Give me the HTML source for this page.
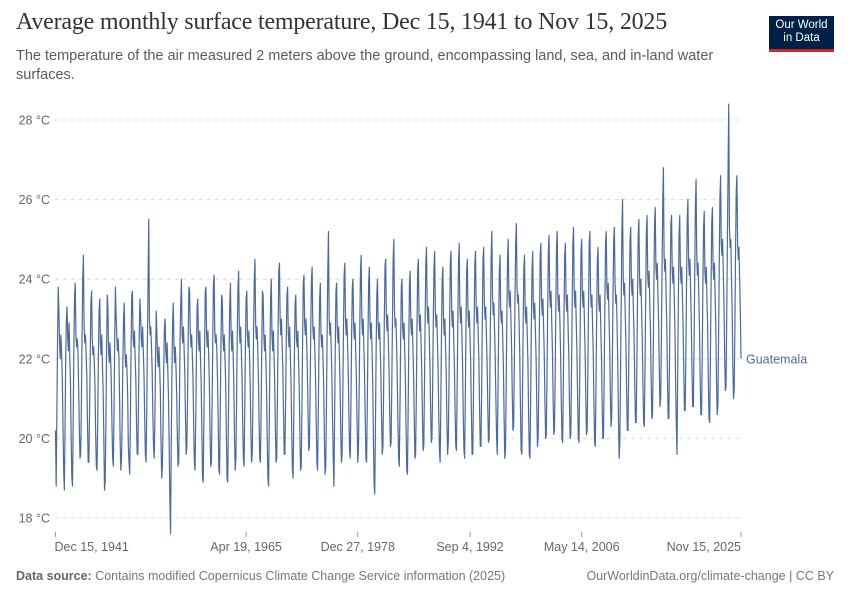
<!DOCTYPE html>
<html><head><meta charset="utf-8">
<style>
body{margin:0;background:#fff;font-family:"Liberation Sans",sans-serif;}
#wrap{position:relative;width:850px;height:600px;overflow:hidden;}
.title{position:absolute;left:16px;top:9px;font-family:"Liberation Serif",serif;font-size:24px;color:#333;margin:0;font-weight:normal;letter-spacing:-0.2px}
.sub{position:absolute;left:16px;top:47px;width:730px;font-size:14.5px;line-height:19px;color:#5b5b5b}
.logo{position:absolute;left:769px;top:16px;width:65px;background:#002147;border-bottom:3px solid #ce261e;color:#fff;font-size:11.5px;line-height:13px;text-align:center;padding-top:3px;box-sizing:content-box;height:30px}
.foot{position:absolute;top:569px;font-size:12.5px;color:#777}
svg{position:absolute;left:0;top:0}
</style></head><body>
<div id="wrap">
<h1 class="title">Average monthly surface temperature, Dec 15, 1941 to Nov 15, 2025</h1>
<div class="sub">The temperature of the air measured 2 meters above the ground, encompassing land, sea, and in-land water surfaces.</div>
<div class="logo">Our World<br>in Data</div>
<svg id="chart" width="850" height="600"></svg>
<div class="foot" style="left:16px"><b style="font-weight:bold;color:#666">Data source:</b> Contains modified Copernicus Climate Change Service information (2025)</div>
<div class="foot" style="right:16px">OurWorldinData.org/climate-change | CC BY</div>
</div>
<script>
const yTicks=[18,20,22,24,26,28];
const xTickLabels=["Dec 15, 1941","Apr 19, 1965","Dec 27, 1978","Sep 4, 1992","May 14, 2006","Nov 15, 2025"];
const xTickMonths=[0,280,444,609,773,1007];
const seriesName="Guatemala";
const startValues=[20.2];
const yearly=[
[18.8,20.6,22.4,23.8,23.2,22.4,22.0,22.6,22.1,21.5,20.3,19.2],
[18.7,20.2,22.0,23.0,23.3,22.5,22.2,22.9,22.0,21.4,20.0,19.0],
[18.8,20.5,22.3,23.6,23.9,22.6,22.3,22.5,22.2,21.3,20.2,19.5],
[19.6,20.8,22.6,24.0,24.6,22.8,22.4,22.6,22.1,21.6,20.4,19.4],
[19.4,20.6,22.0,23.4,23.7,22.5,22.1,22.3,21.9,21.3,20.1,19.3],
[19.2,20.4,22.1,23.2,23.5,22.4,22.1,22.6,21.8,21.2,20.0,18.7],
[18.9,20.3,22.2,23.6,23.3,22.2,21.9,22.4,22.0,21.4,20.3,19.5],
[19.3,20.7,22.5,23.8,23.1,22.6,22.2,22.5,22.1,21.2,19.9,19.2],
[19.5,20.5,22.0,23.0,23.4,22.2,21.8,22.1,21.7,21.1,19.8,19.4],
[19.1,20.4,22.3,23.6,23.7,22.5,22.3,22.7,22.0,21.5,20.4,19.6],
[19.6,21.0,22.6,23.5,23.1,22.5,22.3,22.8,22.2,21.6,20.5,19.6],
[19.4,20.6,22.4,24.0,25.5,23.0,22.6,22.8,22.3,21.7,20.6,19.8],
[19.5,20.5,22.0,23.2,22.6,22.0,21.8,22.3,21.8,21.2,19.9,19.0],
[19.3,20.3,21.8,22.8,23.0,22.2,21.9,22.4,21.7,21.0,19.8,18.5],
[17.6,19.8,21.6,22.9,23.4,22.3,21.9,22.3,21.8,21.1,20.0,19.3],
[19.4,20.8,22.5,23.4,24.0,22.6,22.4,22.8,22.2,21.6,20.5,19.6],
[19.8,21.0,22.6,23.8,23.7,22.7,22.3,22.6,22.1,21.5,20.3,19.4],
[19.2,20.4,22.0,23.3,23.5,22.5,22.2,22.7,22.0,21.4,20.2,19.0],
[18.9,20.5,22.2,23.7,23.8,22.6,22.3,22.7,22.1,21.4,20.2,19.3],
[19.4,20.8,22.4,23.9,24.1,22.7,22.4,22.6,22.2,21.5,20.4,19.2],
[19.1,20.6,22.3,23.6,23.5,22.5,22.2,22.6,22.0,21.4,20.1,19.0],
[18.9,20.4,22.1,23.4,23.9,22.6,22.2,22.7,22.1,21.3,20.0,19.2],
[19.5,20.9,22.6,23.8,24.2,22.8,22.4,22.8,22.2,21.6,20.4,19.5],
[19.3,20.7,22.4,23.5,23.7,22.6,22.3,22.7,22.1,21.4,20.2,19.4],
[19.6,20.9,22.7,24.0,24.5,22.9,22.5,22.8,22.3,21.6,20.5,19.5],
[19.4,20.6,22.3,23.7,23.6,22.6,22.2,22.6,22.0,21.3,20.0,19.0],
[18.8,20.3,22.1,23.5,24.0,22.6,22.2,22.7,22.1,21.4,20.3,19.4],
[19.5,21.0,22.7,24.2,24.4,23.0,22.6,23.0,22.3,21.7,20.6,19.6],
[19.6,20.9,22.5,23.6,23.8,22.6,22.3,22.8,22.1,21.4,20.2,19.2],
[19.0,20.5,22.2,23.4,23.6,22.5,22.3,22.7,22.0,21.3,20.1,19.2],
[19.3,20.8,22.5,23.9,24.1,22.9,22.6,23.0,22.4,21.7,20.6,19.7],
[19.8,21.1,22.8,24.0,24.3,22.8,22.5,22.8,22.2,21.5,20.4,19.4],
[19.2,20.6,22.2,23.5,23.9,22.6,22.3,22.6,22.0,21.3,20.0,19.1],
[19.3,20.8,22.6,24.2,25.2,23.0,22.6,22.9,22.3,21.6,20.4,19.5],
[18.8,20.5,22.3,23.7,23.9,22.7,22.4,22.8,22.1,21.4,20.2,19.4],
[19.6,21.0,22.7,24.1,24.4,23.0,22.6,23.0,22.4,21.7,20.6,19.7],
[19.5,20.9,22.6,23.8,24.0,22.8,22.5,22.9,22.2,21.5,20.4,19.4],
[19.7,21.1,22.8,24.2,24.6,23.0,22.6,23.0,22.3,21.6,20.5,19.5],
[19.4,20.8,22.5,23.9,24.3,22.9,22.5,22.9,22.2,21.4,20.0,18.9],
[18.6,20.3,22.2,23.6,24.0,22.8,22.5,22.9,22.3,21.6,20.5,19.6],
[19.8,21.2,22.9,24.3,24.5,23.1,22.7,23.1,22.4,21.7,20.6,19.8],
[19.9,21.3,23.0,24.5,25.0,23.2,22.8,23.0,22.4,21.6,20.4,19.5],
[19.3,20.7,22.4,23.8,24.0,22.8,22.5,22.9,22.2,21.5,20.2,19.2],
[19.1,20.6,22.4,23.9,24.2,22.9,22.6,23.0,22.3,21.6,20.5,19.5],
[19.6,21.0,22.8,24.2,24.5,23.1,22.7,23.1,22.4,21.7,20.6,19.7],
[19.8,21.3,23.0,24.4,24.8,23.3,22.9,23.3,22.6,21.9,20.8,19.9],
[20.0,21.3,23.0,24.3,24.7,23.2,22.8,23.1,22.5,21.8,20.6,19.7],
[19.4,20.8,22.6,24.0,24.3,23.0,22.6,23.0,22.3,21.6,20.4,19.6],
[19.9,21.3,23.0,24.4,24.7,23.2,22.8,23.2,22.5,21.8,20.7,19.8],
[19.7,21.2,22.9,24.4,24.9,23.3,22.9,23.3,22.6,21.8,20.6,19.7],
[19.5,21.0,22.8,24.2,24.5,23.1,22.8,23.2,22.5,21.8,20.6,19.6],
[19.6,21.1,22.9,24.4,24.7,23.3,22.9,23.3,22.6,21.9,20.7,19.8],
[19.8,21.2,23.0,24.5,24.8,23.4,23.0,23.3,22.6,21.9,20.8,19.9],
[20.0,21.4,23.1,24.6,25.2,23.6,23.1,23.4,22.7,22.0,20.9,20.0],
[19.6,21.1,22.8,24.2,24.6,23.2,22.9,23.2,22.5,21.8,20.5,19.5],
[19.7,21.2,23.0,24.5,25.0,23.6,23.3,23.7,23.0,22.3,21.1,20.2],
[20.3,21.8,23.5,24.9,25.4,23.8,23.4,23.6,22.9,22.1,20.8,19.7],
[19.6,21.0,22.8,24.3,24.6,23.2,22.9,23.3,22.6,21.9,20.6,19.6],
[19.5,21.0,22.8,24.2,24.7,23.3,23.0,23.4,22.7,22.0,20.8,19.8],
[20.0,21.4,23.1,24.6,24.9,23.5,23.1,23.5,22.8,22.1,20.9,20.0],
[20.1,21.5,23.2,24.7,25.1,23.6,23.3,23.7,22.9,22.2,21.0,20.1],
[20.2,21.6,23.3,24.8,25.2,23.6,23.2,23.6,22.9,22.1,20.9,20.0],
[19.9,21.4,23.1,24.6,24.9,23.5,23.2,23.6,22.8,22.1,20.9,20.0],
[20.1,21.6,23.3,24.9,25.3,23.7,23.3,23.7,22.9,22.2,21.0,20.0],
[19.9,21.4,23.2,24.7,25.0,23.6,23.3,23.7,22.9,22.2,21.0,20.1],
[20.2,21.6,23.4,24.9,25.2,23.7,23.3,23.6,22.8,22.1,20.8,19.9],
[19.8,21.3,23.1,24.5,24.8,23.5,23.2,23.6,22.8,22.1,20.9,20.0],
[20.0,21.5,23.3,24.9,25.2,23.8,23.5,23.9,23.1,22.4,21.2,20.3],
[20.5,21.9,23.6,25.0,25.3,23.9,23.4,23.6,22.8,21.9,20.5,19.5],
[19.9,21.5,23.4,25.2,26.0,24.0,23.6,23.9,23.1,22.3,21.1,20.2],
[20.2,21.7,23.5,25.0,25.3,23.9,23.6,24.0,23.2,22.5,21.3,20.4],
[20.4,21.8,23.6,25.1,25.5,24.0,23.6,24.0,23.2,22.5,21.3,20.4],
[20.3,21.8,23.6,25.2,25.6,24.1,23.8,24.2,23.4,22.7,21.5,20.5],
[20.6,22.0,23.8,25.4,25.8,24.3,24.0,24.4,23.6,22.9,21.7,20.8],
[21.0,22.4,24.2,25.9,26.8,24.6,24.2,24.5,23.6,22.8,21.5,20.5],
[20.5,22.0,23.8,25.4,25.6,24.2,23.9,24.3,23.5,22.7,21.3,20.3],
[19.6,21.6,23.5,25.1,25.6,24.2,23.9,24.3,23.5,22.8,21.6,20.7],
[20.7,22.1,23.9,25.5,26.0,24.5,24.1,24.5,23.7,22.9,21.7,20.8],
[20.8,22.3,24.1,25.8,26.5,24.6,24.1,24.4,23.6,22.8,21.5,20.6],
[20.6,22.0,23.8,25.3,25.7,24.2,23.9,24.3,23.5,22.8,21.5,20.5],
[20.4,21.9,23.8,25.4,25.8,24.3,24.0,24.4,23.6,22.8,21.5,20.6],
[20.8,22.4,24.3,26.0,26.6,24.9,24.6,25.0,24.2,23.4,22.1,21.2],
[21.3,23.0,25.0,26.8,28.4,25.3,24.8,25.0,24.1,23.2,21.8,21.0],
[21.2,22.8,24.7,26.2,26.6,24.9,24.5,24.8,24.0,23.2,22.0]
];
const values=startValues.concat(...yearly);
const svg=document.getElementById('chart');
const NS='http://www.w3.org/2000/svg';
const X0=55.5,X1=741,Y18=518,Y28=120;
const n=values.length;
function xScale(i){return X0+(X1-X0)*i/(n-1);}
function yScale(v){return Y18+(v-18)*(Y28-Y18)/10;}
function mk(t,a){const e=document.createElementNS(NS,t);for(const k in a)e.setAttribute(k,a[k]);svg.appendChild(e);return e;}
yTicks.forEach(t=>{
  const g=mk('line',{x1:55,x2:740,y1:yScale(t),y2:yScale(t),stroke:'#ddd','stroke-dasharray':'4,4'});
  
  
  const l=mk('text',{x:50,y:yScale(t)+4.5,'text-anchor':'end','font-size':'12.5','fill':'#666','font-family':'Liberation Sans'});
  l.textContent=t+' °C';
  
  
});
xTickMonths.forEach((m,k)=>{
  const x=xScale(m);
  const tk=mk('line',{x1:x,x2:x,y1:532,y2:537,stroke:'#999'});
  
  
  const anchor=k==0?'start':(k==xTickMonths.length-1?'end':'middle');
  const l=mk('text',{x:k==0?x-1:x,y:551,'text-anchor':anchor,'font-size':'12.5','fill':'#666','font-family':'Liberation Sans'});
  l.textContent=xTickLabels[k];
  
  
});
let d='';
values.forEach((v,i)=>{d+=(i?'L':'M')+xScale(i).toFixed(2)+','+yScale(v).toFixed(2);});
const p=mk('path',{d:d,fill:'none',stroke:'#4c6a9c','stroke-width':'1.2','stroke-linejoin':'round'});


const lab=mk('text',{x:746,y:yScale(values[n-1])+4.5,'font-size':'12.5','fill':'#4c6a9c','font-family':'Liberation Sans'});
lab.textContent=seriesName;


</script>
</body></html>
